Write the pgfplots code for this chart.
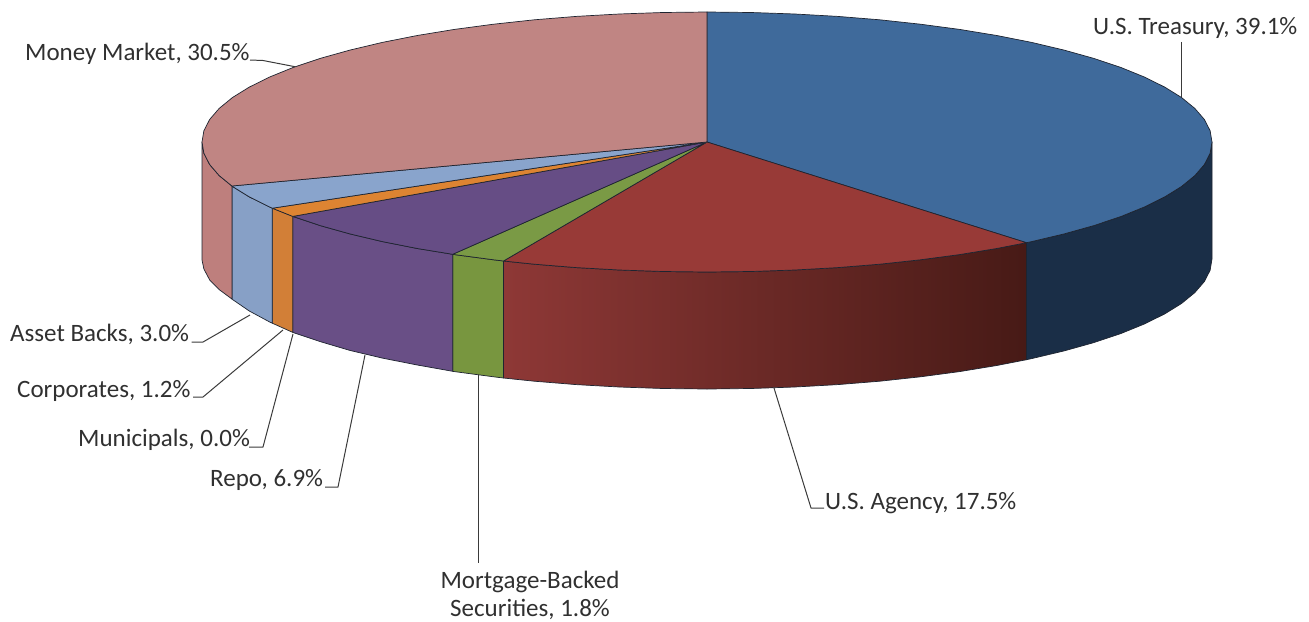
\documentclass[border=0pt]{standalone}
\usepackage{pgfplots}
\pgfplotsset{compat=1.18}
\usepackage{fontspec}
\setmainfont{Carlito}
\definecolor{edge}{HTML}{1E2430}
\definecolor{leader}{HTML}{3A3A3A}
\definecolor{txt}{HTML}{303030}
\definecolor{tT}{HTML}{3F6A9B}\definecolor{sT}{HTML}{1A2E47}
\definecolor{tA}{HTML}{983A37}\definecolor{sAl}{HTML}{8E3836}\definecolor{sAm}{HTML}{6E2D2A}\definecolor{sAr}{HTML}{471A16}
\definecolor{tM}{HTML}{7A9A45}\definecolor{sM}{HTML}{78963F}
\definecolor{tR}{HTML}{664D85}\definecolor{sR}{HTML}{694F86}
\definecolor{tC}{HTML}{DD8432}\definecolor{sC}{HTML}{D27F37}
\definecolor{tB}{HTML}{89A4CC}\definecolor{sB}{HTML}{87A0C6}
\definecolor{tN}{HTML}{C08583}\definecolor{sN}{HTML}{BE7F7D}
\newcommand{\lab}{\fontsize{25bp}{28bp}\selectfont\color{txt}}
\begin{document}
\begin{tikzpicture}
\begin{axis}[
  hide axis, scale only axis, clip=false,
  width=1309bp, height=621bp,
  xmin=0, xmax=1309, ymin=0, ymax=621, y dir=reverse,
  every axis plot/.append style={no markers, sharp plot, line join=round},
]
\path (axis cs:0,0) rectangle (axis cs:1309,621);
% side faces
\addplot[draw=edge, line width=0.7pt, fill=sT] coordinates {
 (1212,142)(1210.1,153.3)(1204.3,164.6)(1194.8,175.6)(1181.5,186.5)(1164.7,196.9)(1144.3,207)(1120.7,216.6)(1093.8,225.6)(1064.1,233.9)(1031.6,241.6)(1026.5,242.7)
 (1026.5,359.7)(1031.6,358.6)(1064.1,350.9)(1093.8,342.6)(1120.7,333.6)(1144.3,324)(1164.7,313.9)(1181.5,303.5)(1194.8,292.6)(1204.3,281.6)(1210.1,270.3)(1212,259)} --cycle;
\addplot[draw=edge, line width=0.7pt, left color=sAl, middle color=sAm, right color=sAr] coordinates {
 (1026.5,242.7)(996.7,248.5)(959.5,254.6)(920.4,259.8)(879.7,264.2)(837.7,267.6)(794.7,270)(751,271.5)(707,272)(663,271.5)(619.3,270)(576.3,267.6)(534.3,264.2)(503.5,261)
 (503.5,378)(534.3,381.2)(576.3,384.6)(619.3,387)(663,388.5)(707,389)(751,388.5)(794.7,387)(837.7,384.6)(879.7,381.2)(920.4,376.8)(959.5,371.6)(996.7,365.5)(1026.5,359.7)} --cycle;
\addplot[draw=edge, line width=0.7pt, fill=sM] coordinates {
 (503.5,261)(493.6,259.8)(454.5,254.6)(452.7,254.3)
 (452.7,371.3)(454.5,371.6)(493.6,376.8)(503.5,378)} --cycle;
\addplot[draw=edge, line width=0.7pt, fill=sR] coordinates {
 (452.7,254.3)(417.3,248.5)(382.4,241.6)(349.9,233.9)(320.2,225.6)(293.3,216.6)(292.8,216.4)
 (292.8,332.4)(293.3,332.6)(320.2,341.6)(349.9,350.4)(382.4,358.1)(417.3,365)(452.7,371.3)} --cycle;
\addplot[draw=edge, line width=0.7pt, fill=sC] coordinates {
 (292.8,216.4)(272.3,208.2)(272.3,323.2)(292.8,332.4)} --cycle;
\addplot[draw=edge, line width=0.7pt, fill=sB] coordinates {
 (272.3,208.2)(269.7,207)(249.3,196.9)(232.5,186.5)(231.9,186)
 (231.9,299)(232.5,299.5)(249.3,311)(269.7,322)(272.3,323.2)} --cycle;
\addplot[draw=edge, line width=0.7pt, fill=sN] coordinates {
 (231.9,186)(219.2,175.6)(209.7,164.6)(203.9,153.3)(202,142)
 (202,260)(203.9,269)(209.7,280)(219.2,289.6)(231.9,299)} --cycle;
% top faces
\addplot[draw=edge, line width=0.7pt, fill=tT] coordinates {
 (707,142)(707,12)(751,12.5)(794.7,14)(837.7,16.4)(879.7,19.8)(920.4,24.2)(959.5,29.4)(996.7,35.5)(1031.6,42.4)(1064.1,50.1)(1093.8,58.4)(1120.7,67.4)(1144.3,77)(1164.7,87.1)(1181.5,97.5)(1194.8,108.4)(1204.3,119.4)(1210.1,130.7)(1212,142)
 (1210.1,153.3)(1204.3,164.6)(1194.8,175.6)(1181.5,186.5)(1164.7,196.9)(1144.3,207)(1120.7,216.6)(1093.8,225.6)(1064.1,233.9)(1031.6,241.6)(1026.5,242.7)} --cycle;
\addplot[draw=edge, line width=0.7pt, fill=tA] coordinates {
 (707,142)(1026.5,242.7)(996.7,248.5)(959.5,254.6)(920.4,259.8)(879.7,264.2)(837.7,267.6)(794.7,270)(751,271.5)(707,272)(663,271.5)(619.3,270)(576.3,267.6)(534.3,264.2)(503.5,261)} --cycle;
\addplot[draw=edge, line width=0.7pt, fill=tM] coordinates {
 (707,142)(503.5,261)(493.6,259.8)(454.5,254.6)(452.7,254.3)} --cycle;
\addplot[draw=edge, line width=0.7pt, fill=tR] coordinates {
 (707,142)(452.7,254.3)(417.3,248.5)(382.4,241.6)(349.9,233.9)(320.2,225.6)(293.3,216.6)(292.8,216.4)} --cycle;
\addplot[draw=edge, line width=0.7pt, fill=tC] coordinates {
 (707,142)(292.8,216.4)(272.3,208.2)} --cycle;
\addplot[draw=edge, line width=0.7pt, fill=tB] coordinates {
 (707,142)(272.3,208.2)(269.7,207)(249.3,196.9)(232.5,186.5)(231.9,186)} --cycle;
\addplot[draw=edge, line width=0.7pt, fill=tN] coordinates {
 (707,142)(231.9,186)(219.2,175.6)(209.7,164.6)(203.9,153.3)(202,142)(203.9,130.7)(209.7,119.4)(219.2,108.4)(232.5,97.5)(249.3,87.1)(269.7,77)(293.3,67.4)(320.2,58.4)(349.9,50.1)(382.4,42.4)(417.3,35.5)(454.5,29.4)(493.6,24.2)(534.3,19.8)(576.3,16.4)(619.3,14)(663,12.5)(707,12)} --cycle;
% leader lines
\addplot[draw=leader, line width=1pt] coordinates {(1181,42)(1181,97)};
\addplot[draw=leader, line width=1pt] coordinates {(250,60)(263,60.5)(295,66.7)};
\addplot[draw=leader, line width=1pt] coordinates {(191.7,342)(203,342)(250,315)};
\addplot[draw=leader, line width=1pt] coordinates {(193,397)(203,397)(283,330)};
\addplot[draw=leader, line width=1pt] coordinates {(249,447)(263,447)(293,334)};
\addplot[draw=leader, line width=1pt] coordinates {(325,487)(338,487)(365,355)};
\addplot[draw=leader, line width=1pt] coordinates {(478,375)(478,562.7)};
\addplot[draw=leader, line width=1pt] coordinates {(774,388)(811,508)(824,508)};
% labels
\node[anchor=west, inner sep=0pt, font=\lab] at (axis cs:1093,28) {U.S. Treasury, 39.1\%};
\node[anchor=west, inner sep=0pt, font=\lab] at (axis cs:25,54) {Money Market, 30.5\%};
\node[anchor=west, inner sep=0pt, font=\lab] at (axis cs:10,334) {Asset Backs, 3.0\%};
\node[anchor=west, inner sep=0pt, font=\lab] at (axis cs:17,391) {Corporates, 1.2\%};
\node[anchor=west, inner sep=0pt, font=\lab] at (axis cs:78,440) {Municipals, 0.0\%};
\node[anchor=west, inner sep=0pt, font=\lab] at (axis cs:210,480) {Repo, 6.9\%};
\node[anchor=west, inner sep=0pt, font=\lab] at (axis cs:825,503) {U.S. Agency, 17.5\%};
\node[anchor=center, inner sep=0pt, align=center, font=\lab] at (axis cs:530,595) {Mortgage-Backed\\Securities, 1.8\%};
\end{axis}
\end{tikzpicture}
\end{document}
